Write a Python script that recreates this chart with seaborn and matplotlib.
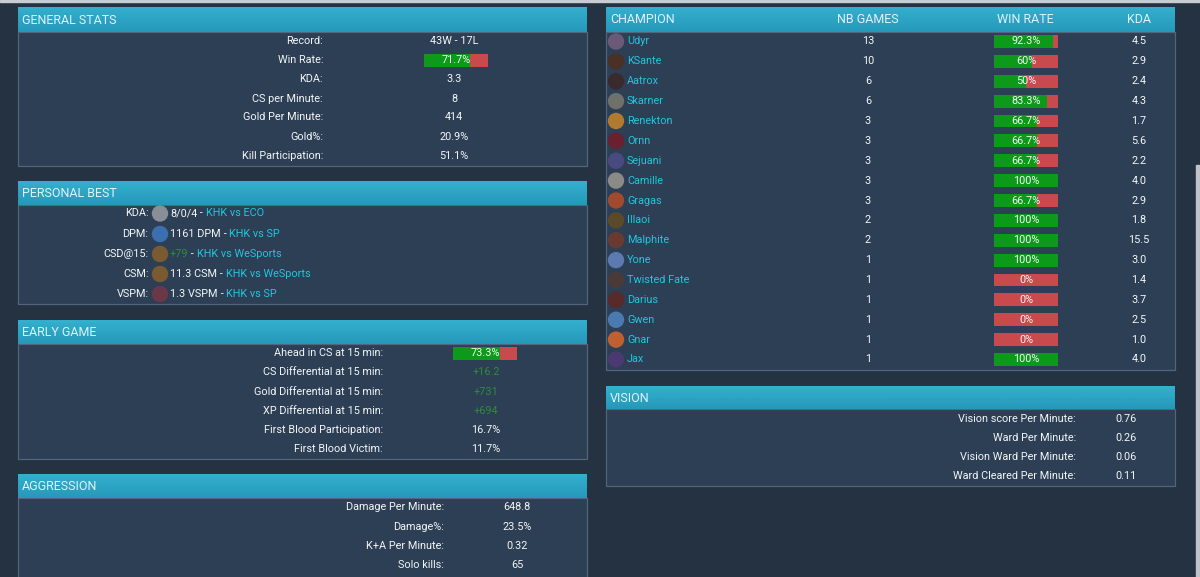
import matplotlib
matplotlib.use("Agg")
import matplotlib.pyplot as plt
import seaborn as sns
import pandas as pd
import numpy as np
from matplotlib.patches import Rectangle, Circle
from matplotlib.colors import LinearSegmentedColormap

# ---------------- data ----------------
general_labels = ["Record:", "Win Rate:", "KDA:", "CS per Minute:", "Gold Per Minute:",
                  "Gold%:", "Kill Participation:"]
general_values = ["43W - 17L", "71.7%", "3.3", "8", "414", "20.9%", "51.1%"]
general_winrate = 71.7

best_labels = ["KDA:", "DPM:", "CSD@15:", "CSM:", "VSPM:"]
best_values = ["8/0/4", "1161 DPM", "+79", "11.3 CSM", "1.3 VSPM"]
best_matches = ["KHK vs ECO", "KHK vs SP", "KHK vs WeSports", "KHK vs WeSports", "KHK vs SP"]

early_labels = ["Ahead in CS at 15 min:", "CS Differential at 15 min:",
                "Gold Differential at 15 min:", "XP Differential at 15 min:",
                "First Blood Participation:", "First Blood Victim:"]
early_values = ["73.3%", "+16.2", "+731", "+694", "16.7%", "11.7%"]
early_ahead = 73.3

aggr_labels = ["Damage Per Minute:", "Damage%:", "K+A Per Minute:", "Solo kills:"]
aggr_values = ["648.8", "23.5%", "0.32", "65"]

vision_labels = ["Vision score Per Minute:", "Ward Per Minute:", "Vision Ward Per Minute:",
                 "Ward Cleared Per Minute:"]
vision_values = ["0.76", "0.26", "0.06", "0.11"]

table_headers = ["CHAMPION", "NB GAMES", "WIN RATE", "KDA"]
champions = ["Udyr", "KSante", "Aatrox", "Skarner", "Renekton", "Ornn", "Sejuani", "Camille",
             "Gragas", "Illaoi", "Malphite", "Yone", "Twisted Fate", "Darius", "Gwen", "Gnar", "Jax"]
games = [13, 10, 6, 6, 3, 3, 3, 3, 3, 2, 2, 1, 1, 1, 1, 1, 1]
winrates = [92.3, 60, 50, 83.3, 66.7, 66.7, 66.7, 100, 66.7, 100, 100, 100, 0, 0, 0, 0, 100]
kdas = ["4.5", "2.9", "2.4", "4.3", "1.7", "5.6", "2.2", "4.0", "2.9", "1.8", "15.5", "3.0",
        "1.4", "3.7", "2.5", "1.0", "4.0"]

# ---------------- style ----------------
BG = "#243242"
BODY = "#2c3f54"
EDGE = "#52657a"
HEAD_TOP = "#34b0cd"
HEAD_BOT = "#2698ba"
HEAD_TXT = "#dff3fa"
WHITE = "#f4f6f8"
CYAN = "#22c6de"
GREEN = "#0d9a1a"
RED = "#c94a4c"
GREEN_TXT = "#2f8c3b"

sns.set_theme(style="white")
LABEL_FONT = ["Liberation Sans Narrow", "Roboto", "DejaVu Sans"]
HEAD_FONT = ["Roboto", "DejaVu Sans"]
plt.rcParams["font.family"] = LABEL_FONT
FS = 7.8
HFS = 9.0

W, H = 1200, 577
fig = plt.figure(figsize=(W / 100, H / 100), dpi=100, facecolor=BG)
ax = fig.add_axes([0, 0, 1, 1])
ax.set_xlim(0, W)
ax.set_ylim(H, 0)
ax.axis("off")
ax.set_zorder(1)

# browser chrome bits
ax.add_patch(Rectangle((0, 0), W, 2, color="#c9cdd2", zorder=1))
ax.add_patch(Rectangle((1196, 165), 4, H - 165, color="#c0c4c8", zorder=1))

grad = np.linspace(0, 1, 50).reshape(-1, 1)
hcmap = LinearSegmentedColormap.from_list("hd", [HEAD_TOP, HEAD_BOT])


def panel(x0, x1, ytop, yhead, ybot, title):
    ax.add_patch(Rectangle((x0, yhead), x1 - x0, ybot - yhead, facecolor=BODY,
                           edgecolor=EDGE, linewidth=0.9, zorder=2))
    ax.imshow(grad, cmap=hcmap, extent=(x0, x1, yhead, ytop), aspect="auto", zorder=3)
    ax.text(x0 + 4, (ytop + yhead) / 2 + 0.5, title, color=HEAD_TXT, fontsize=HFS,
            family=HEAD_FONT, ha="left", va="center", zorder=4)


renderer = fig.canvas.get_renderer()


def seq_text(x, y, parts, fs=FS):
    for s, c in parts:
        t = ax.text(x, y, s, color=c, fontsize=fs, ha="left", va="center", zorder=5)
        bb = t.get_window_extent(renderer=renderer)
        x += bb.width


def winbar(xl, xr, y, pct, hgt=13):
    wid = xr - xl
    ax.barh(y, wid, left=xl, height=hgt, color=RED, edgecolor="none", linewidth=0, zorder=4)
    ax.barh(y, wid * pct / 100.0, left=xl, height=hgt, color=GREEN, edgecolor="none",
            linewidth=0, zorder=5)


# ---------- General stats ----------
panel(18, 587, 7, 32, 166, "GENERAL STATS")
gy = [40.7, 60, 79, 98.7, 117.5, 136.5, 155.7]
for lab, val, y in zip(general_labels, general_values, gy):
    ax.text(323, y, lab, color=WHITE, fontsize=FS, ha="right", va="center", zorder=5)
    if lab == "Win Rate:":
        winbar(424, 488, y, general_winrate)
        ax.text(456, y, val, color=WHITE, fontsize=FS, ha="center", va="center", zorder=6)
    else:
        ax.text(454, y, val, color=WHITE, fontsize=FS, ha="center", va="center", zorder=5)

# ---------- Personal best ----------
panel(18, 587, 181, 205, 304, "PERSONAL BEST")
by = [213.5, 234, 254, 274, 294]
icon_cols = ["#8a8e96", "#3c6fb0", "#7a5a30", "#7a5a30", "#6a3848"]
for lab, val, mt, y, ic in zip(best_labels, best_values, best_matches, by, icon_cols):
    ax.text(148.5, y, lab, color=WHITE, fontsize=FS, ha="right", va="center", zorder=5)
    ax.add_patch(Circle((160, y), 7.5, color=ic, zorder=5))
    vcol = GREEN_TXT if val.startswith("+") else WHITE
    seq_text(170, y, [(val, vcol), (" - ", WHITE), (mt, CYAN)])

# ---------- Early game ----------
panel(18, 587, 320, 344, 459, "EARLY GAME")
ey = [353, 372, 392, 411, 430, 449]
for lab, val, y in zip(early_labels, early_values, ey):
    ax.text(383, y, lab, color=WHITE, fontsize=FS, ha="right", va="center", zorder=5)
    if lab.startswith("Ahead"):
        winbar(453, 517, y, early_ahead)
        ax.text(485, y, val, color=WHITE, fontsize=FS, ha="center", va="center", zorder=6)
    else:
        col = GREEN_TXT if val.startswith("+") else WHITE
        ax.text(486, y, val, color=col, fontsize=FS, ha="center", va="center", zorder=5)

# ---------- Aggression ----------
panel(18, 587, 474, 498, 590, "AGGRESSION")
ay = [507, 527, 546, 565]
for lab, val, y in zip(aggr_labels, aggr_values, ay):
    ax.text(444, y, lab, color=WHITE, fontsize=FS, ha="right", va="center", zorder=5)
    ax.text(517, y, val, color=WHITE, fontsize=FS, ha="center", va="center", zorder=5)

# ---------- Vision ----------
panel(606, 1175, 386, 409, 486, "VISION")
vy = [419, 438, 457, 476]
for lab, val, y in zip(vision_labels, vision_values, vy):
    ax.text(1076, y, lab, color=WHITE, fontsize=FS, ha="right", va="center", zorder=5)
    ax.text(1126, y, val, color=WHITE, fontsize=FS, ha="center", va="center", zorder=5)

# ---------- Champion table ----------
panel(606, 1175, 7, 32, 370, "")
hx = [610, 868, 1025.5, 1139]
for i, (h, x) in enumerate(zip(table_headers, hx)):
    ax.text(x, 19.5, h, color=HEAD_TXT, fontsize=HFS, family=HEAD_FONT,
            ha="left" if i == 0 else "center", va="center", zorder=4)

ROW0, STEP = 41.5, 19.875
icon_palette = ["#6a5a78", "#4a3026", "#3a2a2e", "#70706a", "#b07a30", "#6a2030", "#4a4a80",
                "#8a8a86", "#a04a30", "#5a4a2a", "#6a3a30", "#5a7ab0", "#4a3a3a", "#5a2a2a",
                "#4a7ab0", "#c06030", "#4a3a70"]
for i, (ch, g, k) in enumerate(zip(champions, games, kdas)):
    y = ROW0 + i * STEP
    ax.add_patch(Circle((616, y), 7.5, color=icon_palette[i], zorder=5))
    ax.text(627, y, ch, color=CYAN, fontsize=FS, ha="left", va="center", zorder=5)
    ax.text(868, y, str(g), color=WHITE, fontsize=FS, ha="center", va="center", zorder=5)
    ax.text(1139, y, k, color=WHITE, fontsize=FS, ha="center", va="center", zorder=5)

# win-rate bars through seaborn (axes above the panel layer)
df = pd.DataFrame({"champion": champions, "winrate": winrates, "full": [100] * len(champions)})
top = ROW0 - 0.5 * STEP
bot = ROW0 + (len(champions) - 0.5) * STEP
bax = fig.add_axes([994 / W, 1 - bot / H, 64 / W, (bot - top) / H])
bax.set_zorder(5)
sns.barplot(data=df, x="full", y="champion", color=RED, saturation=1, width=0.65,
            orient="h", ax=bax, edgecolor="none", linewidth=0)
sns.barplot(data=df, x="winrate", y="champion", color=GREEN, saturation=1, width=0.65,
            orient="h", ax=bax, edgecolor="none", linewidth=0)
bax.set_xlim(0, 100)
bax.set_ylim(len(champions) - 0.5, -0.5)
bax.axis("off")
bax.patch.set_alpha(0)
for i, wr in enumerate(winrates):
    bax.text(50, i, f"{wr:g}%", color=WHITE, fontsize=FS, ha="center", va="center", zorder=7)

fig.savefig("out.png", dpi=100, facecolor=BG)
